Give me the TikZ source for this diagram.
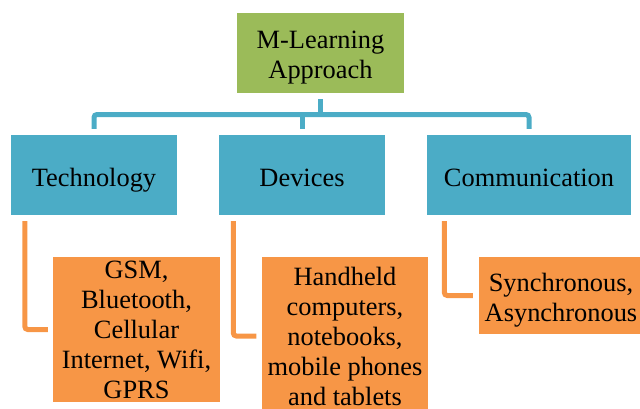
\documentclass[tikz,border=0pt]{standalone}
\usepackage{fontspec}
\setmainfont{Liberation Serif}
\usetikzlibrary{calc}
\definecolor{mlgreen}{HTML}{9BBB59}
\definecolor{mlblue}{HTML}{4BACC6}
\definecolor{mlorange}{HTML}{F79646}
\begin{document}
\begin{tikzpicture}[x=1pt,y=-1pt,
  box/.style={inner sep=0pt,align=center,text=black,
    font=\rmfamily\fontsize{26.4}{30}\selectfont},
  label text/.style={box,fill=none},
  rootbox/.style={box,fill=mlgreen},
  catbox/.style={box,fill=mlblue,text height=26pt,text depth=4pt},
  itembox/.style={box,fill=mlorange},
  blline/.style={draw=mlblue,line width=5pt,rounded corners=3pt},
  orline/.style={draw=mlorange,line width=5pt,rounded corners=3pt}]
\useasboundingbox (0,0) rectangle (640,408);
\begin{scope}
\clip (0,0) rectangle (640,408);
% root
\node[rootbox,minimum width=167pt,minimum height=80pt] (root) at (320.5,53) {};
\node[label text] (roottext) at ([yshift=-5pt]root.center) {M-Learning\\Approach};
% categories
\node[catbox,minimum width=166pt,minimum height=80pt] (tech) at (94,175) {Technology};
\node[catbox,minimum width=166pt,minimum height=80pt] (dev) at (302,175) {Devices};
\node[catbox,minimum width=204pt,minimum height=80pt] (comm) at (529,175) {Communication};
% items
\node[itembox,minimum width=167pt,minimum height=145pt] (gsm) at (136.5,329.5)
  {GSM,\\Bluetooth,\\Cellular\\Internet, Wifi,\\GPRS};
\node[itembox,minimum width=166pt,minimum height=158pt] (hand) at (345,336)
  {Handheld\\computers,\\notebooks,\\mobile phones\\and tablets};
\node[itembox,minimum width=164pt,minimum height=77pt] (sync) at (561,295.5) {};
\node[label text] (synctext) at ([yshift=-5pt]sync.center) {Synchronous,\\Asynchronous};
% tree connectors
\coordinate (bus) at (320.5,114.5);
\draw[blline] ([yshift=6pt]tech.north) |- (bus) -| ([yshift=6pt]comm.north);
\draw[blline] ([yshift=-6pt]root.south) -- (root.south |- bus);
\draw[blline] ([yshift=6pt]dev.north) -- (dev.north |- bus);
% item connectors
\draw[orline,shorten >=5pt] ([xshift=14pt,yshift=-6pt]tech.south west) |- (gsm.west);
\draw[orline,shorten >=5.5pt] ([xshift=14.5pt,yshift=-6pt]dev.south west) |- (hand.west);
\draw[orline,shorten >=6pt] ([xshift=17.5pt,yshift=-6pt]comm.south west) |- (sync.west);
\end{scope}
\end{tikzpicture}
\end{document}
